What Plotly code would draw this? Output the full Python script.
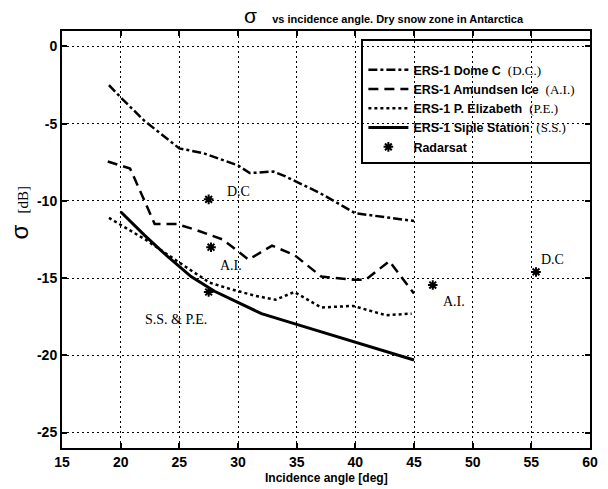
import plotly.graph_objects as go

# ---- data ----
dc_x = [19, 20, 22, 25, 27, 30, 31, 33, 34, 37, 40, 42, 45]
dc_y = [-2.5, -3.3, -4.8, -6.6, -6.9, -7.7, -8.2, -8.1, -8.4, -9.5, -10.8, -11.0, -11.3]

ai_x = [18.9, 20.8, 21.8, 22.9, 24.8, 26.5, 28.7, 30.9, 32.9, 34.8, 37.1, 39.8, 40.9, 42.9, 45]
ai_y = [-7.45, -7.9, -9.6, -11.5, -11.5, -11.9, -12.5, -13.8, -12.9, -13.5, -14.9, -15.1, -15.1, -13.9, -16.0]

pe_x = [19, 22.1, 25.4, 27.6, 29.3, 31.5, 33.2, 34.8, 37.1, 39.8, 42.6, 44.8]
pe_y = [-11.1, -12.5, -14.2, -15.3, -15.7, -16.15, -16.4, -15.9, -16.9, -16.8, -17.4, -17.3]

ss_x = [20, 22, 24, 26, 28, 30, 32, 35, 38, 41, 45]
ss_y = [-10.7, -12.2, -13.6, -14.9, -15.85, -16.6, -17.3, -18.0, -18.7, -19.4, -20.3]

rs_x = [27.5, 27.7, 27.5, 46.6, 55.4]
rs_y = [-9.9, -13.0, -15.9, -15.45, -14.6]

lab_text = ["D.C", "A.I.", "S.S. &amp; P.E.", "A.I.", "D.C"]
lab_x = [30.0, 29.4, 24.7, 48.4, 56.8]
lab_y = [-9.4, -14.2, -17.65, -16.5, -13.8]

x_ticks = [15, 20, 25, 30, 35, 40, 45, 50, 55, 60]
y_ticks = [0, -5, -10, -15, -20, -25]

SANS = "Liberation Sans"
SERIF = "Liberation Serif"


def lname(main, abbr):
    s = "<b>" + main + "</b>"
    if abbr:
        s += "  <span style='font-family:" + SERIF + ";font-size:13px'>" + abbr + "</span>"
    s += "   "
    return s


fig = go.Figure()
fig.add_trace(go.Scatter(x=dc_x, y=dc_y, mode="lines", name=lname("ERS-1 Dome C", "(D.C.)"),
                         line=dict(color="black", width=2.5, dash="dashdot")))
fig.add_trace(go.Scatter(x=ai_x, y=ai_y, mode="lines", name=lname("ERS-1 Amundsen Ice", "(A.I.)"),
                         line=dict(color="black", width=2.5, dash="10px,6px")))
fig.add_trace(go.Scatter(x=pe_x, y=pe_y, mode="lines", name=lname("ERS-1 P. Elizabeth", "(P.E.)"),
                         line=dict(color="black", width=2.5, dash="dot")))
fig.add_trace(go.Scatter(x=ss_x, y=ss_y, mode="lines", name=lname("ERS-1 Siple Station", "(S.S.)"),
                         line=dict(color="black", width=3)))
fig.add_trace(go.Scatter(x=rs_x, y=rs_y, mode="markers", name=lname("Radarsat", ""),
                         marker=dict(symbol="asterisk-open", size=8, color="black",
                                     line=dict(color="black", width=2))))

for t, xx, yy in zip(lab_text, lab_x, lab_y):
    fig.add_annotation(x=xx, y=yy, text=t, showarrow=False,
                       font=dict(family=SERIF, size=14, color="black"))

# title
fig.add_annotation(xref="paper", yref="paper", x=0.341, y=1.036, xanchor="left", yanchor="middle",
                   showarrow=False,
                   text="<span style='font-size:21px'>σ</span>     <b>vs incidence angle. Dry snow zone in Antarctica</b>",
                   font=dict(family=SANS, size=11, color="black"))
# x title
fig.add_annotation(xref="paper", yref="paper", x=0.5, y=-0.072, xanchor="center", yanchor="middle",
                   showarrow=False, text="<b>Incidence angle [deg]</b>",
                   font=dict(family=SANS, size=12, color="black"))
# y title
fig.add_annotation(xref="paper", yref="paper", x=-0.08, y=0.564, xanchor="center", yanchor="middle",
                   showarrow=False, textangle=-90,
                   text="<span style='font-size:24px;font-family:" + SANS + "'>σ</span>   [dB]",
                   font=dict(family=SERIF, size=15, color="black"))

axis_common = dict(showline=True, linecolor="black", linewidth=2, mirror="ticks",
                   ticks="inside", ticklen=5, tickcolor="black", tickwidth=1.5,
                   showgrid=True, gridcolor="black", gridwidth=1.2, griddash="2px,3px",
                   zeroline=False,
                   tickfont=dict(family=SANS, size=14, color="black"))

fig.update_xaxes(range=[15, 60], tickvals=x_ticks, ticktext=["<b>" + str(v) + "</b>" for v in x_ticks],
                 **axis_common)
fig.update_yaxes(range=[-26, 1], tickvals=y_ticks, ticktext=["<b>" + str(v) + "</b>" for v in y_ticks],
                 **axis_common)

fig.update_layout(
    width=608, height=489,
    margin=dict(l=62, r=10, t=31, b=41),
    plot_bgcolor="white", paper_bgcolor="white",
    showlegend=True,
    legend=dict(x=0.567, y=0.981, xanchor="left", yanchor="top",
                bgcolor="rgba(0,0,0,0)", bordercolor="black", borderwidth=2,
                font=dict(family=SANS, size=12.5, color="black"),
                title=dict(text=" ", font=dict(size=11)),
                tracegroupgap=0, itemwidth=40),
)

fig.write_html("out.html", config={"displayModeBar": False},
               post_script="document.body.style.margin='0px';document.body.style.overflow='hidden';")
